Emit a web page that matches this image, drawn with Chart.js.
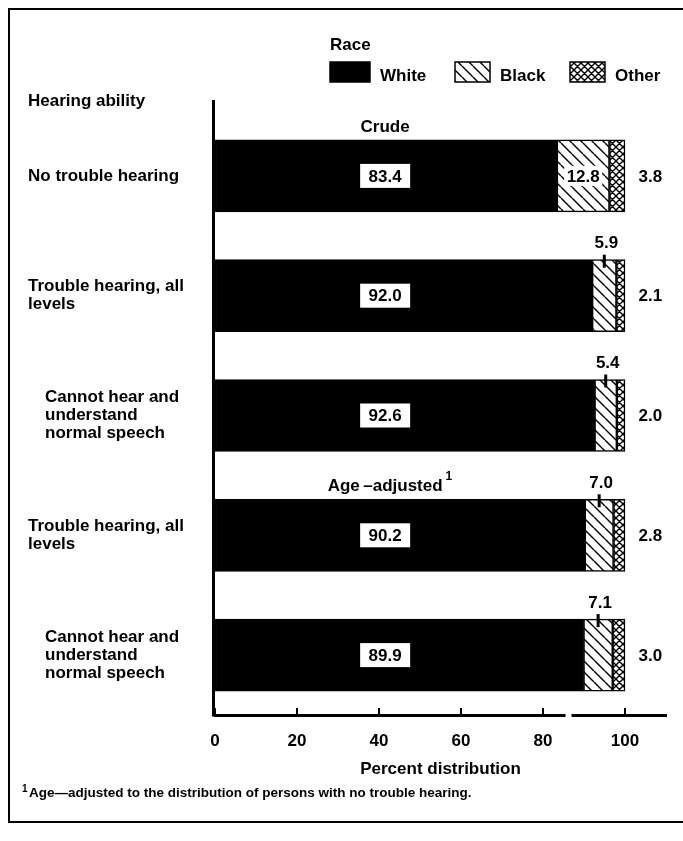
<!DOCTYPE html>
<html lang="en">
<head>
<meta charset="UTF-8">
<title>Hearing ability by race</title>
<script src="https://cdn.jsdelivr.net/npm/chart.js"></script>
<style>
    body {
        margin: 0;
        background: #fff;
    }

    #chart-container {
        position: relative;
        width: 683px;
        height: 841px;
    }
</style>
</head>
<body>
<div id="chart-container">
    <canvas id="hearingChart"></canvas>
</div>
<script>
const categories = [
    ['No trouble hearing'],
    ['Trouble hearing, all', 'levels'],
    ['Cannot hear and', 'understand', 'normal speech'],
    ['Trouble hearing, all', 'levels'],
    ['Cannot hear and', 'understand', 'normal speech']
];
const whiteValues = [83.4, 92.0, 92.6, 90.2, 89.9];
const blackValues = [12.8, 5.9, 5.4, 7.0, 7.1];
const otherValues = [3.8, 2.1, 2.0, 2.8, 3.0];
const xTicks = [0, 20, 40, 60, 80, 100];
const groupLabels = ['Crude', null, null, 'Age\u2009\u2013adjusted', null];

const FONT = "'Liberation Sans', Arial, sans-serif";
const MAIN = 'bold 17px ' + FONT;

const canvas = document.getElementById('hearingChart');
const ctx = canvas.getContext('2d');

// hatch fills for the Black and Other segments
function makePattern(size, cross) {
    const c = document.createElement('canvas');
    c.width = size;
    c.height = size;
    const g = c.getContext('2d');
    g.fillStyle = '#fff';
    g.fillRect(0, 0, size, size);
    g.strokeStyle = '#000';
    g.lineWidth = 1.4;
    g.beginPath();
    for (const k of [-size, 0, size]) {
        g.moveTo(k, 0);
        g.lineTo(k + size, size);
        if (cross) {
            g.moveTo(k + size, 0);
            g.lineTo(k, size);
        }
    }
    g.stroke();
    return ctx.createPattern(c, 'repeat');
}

const hatch = makePattern(11, false);
const crossHatch = makePattern(7, true);

function txt(c, s, x, y, align, font) {
    c.font = font || MAIN;
    c.textAlign = align || 'left';
    c.textBaseline = 'middle';
    c.fillStyle = '#000';
    c.fillText(s, x, y);
}

const decorPlugin = {
    id: 'decor',
    afterDraw(chart) {
        const c = chart.ctx;
        const area = chart.chartArea;
        const xs = chart.scales.x;
        const ys = chart.scales.y;
        c.save();

        // frame
        c.strokeStyle = '#000';
        c.lineWidth = 2;
        c.beginPath();
        c.moveTo(683, 9);
        c.lineTo(9, 9);
        c.lineTo(9, 822);
        c.lineTo(683, 822);
        c.stroke();

        // legend
        txt(c, 'Race', 330, 45);
        const sets = chart.data.datasets;
        const legendX = [330, 455, 570];
        const boxW = [40, 35, 35];
        sets.forEach((ds, i) => {
            c.fillStyle = ds.backgroundColor;
            c.fillRect(legendX[i], 62, boxW[i], 20);
            c.strokeStyle = '#000';
            c.lineWidth = 1.5;
            c.strokeRect(legendX[i], 62, boxW[i], 20);
            txt(c, ds.label, legendX[i] + boxW[i] + 10, 76);
        });

        txt(c, 'Hearing ability', 28, 101);

        // y axis line, running up past the plot top
        c.strokeStyle = '#000';
        c.lineWidth = 3;
        c.beginPath();
        c.moveTo(area.left - 1.5, 100);
        c.lineTo(area.left - 1.5, area.bottom + 1.5);
        c.stroke();

        // category labels
        categories.forEach((lines, i) => {
            const cy = ys.getPixelForValue(i);
            const lx = lines.length > 2 ? 45 : 28;
            const y0 = cy - (lines.length - 1) * 9;
            lines.forEach((ln, k) => txt(c, ln, lx, y0 + k * 18));
        });

        // x tick marks pointing up, and the axis break
        c.lineWidth = 2;
        xTicks.forEach(v => {
            const px = xs.getPixelForValue(v);
            c.beginPath();
            c.moveTo(px, area.bottom);
            c.lineTo(px, area.bottom - 7);
            c.stroke();
        });
        c.fillStyle = '#fff';
        c.fillRect(xs.getPixelForValue(85.5), area.bottom - 4, 6, 9);

        const white = chart.getDatasetMeta(0).data;
        const black = chart.getDatasetMeta(1).data;
        const other = chart.getDatasetMeta(2).data;

        groupLabels.forEach((g, i) => {
            if (!g) return;
            const bar = white[i];
            const top = bar.y - bar.height / 2;
            const gx = xs.getPixelForValue(41.5);
            txt(c, g, gx, top - 13, 'center');
            if (i > 0) {
                c.font = MAIN;
                const w = c.measureText(g).width;
                txt(c, '1', gx + w / 2 + 3, top - 23, 'left', 'bold 12px ' + FONT);
            }
        });

        whiteValues.forEach((v, i) => {
            const bar = white[i];
            const bx = xs.getPixelForValue(41.5);
            c.fillStyle = '#fff';
            c.fillRect(bx - 25, bar.y - 12, 50, 24);
            txt(c, v.toFixed(1), bx, bar.y + 1, 'center');
        });

        blackValues.forEach((v, i) => {
            const bar = black[i];
            const mid = (bar.x + bar.base) / 2;
            const top = bar.y - bar.height / 2;
            if (bar.x - bar.base > 40) {
                c.fillStyle = '#fff';
                c.fillRect(mid - 19, bar.y - 10, 38, 20);
                txt(c, v.toFixed(1), mid, bar.y + 1, 'center');
            } else {
                c.strokeStyle = '#000';
                c.lineWidth = 3;
                c.beginPath();
                c.moveTo(mid, top - 5);
                c.lineTo(mid, top + 8);
                c.stroke();
                txt(c, v.toFixed(1), mid + 2, top - 16, 'center');
            }
        });

        otherValues.forEach((v, i) => {
            const bar = other[i];
            txt(c, v.toFixed(1), xs.getPixelForValue(103.3), bar.y + 1, 'left');
        });

        txt(c, 'Age\u2014adjusted to the distribution of persons with no trouble hearing.',
            29, 793, 'left', 'bold 13.5px ' + FONT);
        txt(c, '1', 22, 789, 'left', 'bold 10px ' + FONT);

        c.restore();
    }
};

const common = {
    borderColor: '#000',
    borderWidth: 1.5,
    borderSkipped: false,
    barThickness: 72
};

new Chart(ctx, {
    type: 'bar',
    data: {
        labels: categories.map(l => l.join(' ')),
        datasets: [
            Object.assign({ label: 'White', data: whiteValues, backgroundColor: '#000' }, common),
            Object.assign({ label: 'Black', data: blackValues, backgroundColor: hatch }, common),
            Object.assign({ label: 'Other', data: otherValues, backgroundColor: crossHatch }, common)
        ]
    },
    options: {
        indexAxis: 'y',
        responsive: true,
        maintainAspectRatio: false,
        animation: false,
        layout: {
            padding: { top: 116, bottom: 46, left: 0, right: 17 }
        },
        plugins: {
            legend: { display: false },
            tooltip: { enabled: false }
        },
        scales: {
            x: {
                stacked: true,
                min: 0,
                max: 110,
                afterBuildTicks: scale => {
                    scale.ticks = xTicks.map(v => ({ value: v }));
                },
                afterFit: scale => {
                    scale.height = 80;
                },
                grid: { display: false },
                border: { color: '#000', width: 3 },
                ticks: {
                    color: '#000',
                    padding: 8,
                    font: { family: FONT, size: 17, weight: 'bold' }
                },
                title: {
                    display: true,
                    text: 'Percent distribution',
                    color: '#000',
                    font: { family: FONT, size: 17, weight: 'bold' },
                    padding: { top: 4, bottom: 15 }
                }
            },
            y: {
                stacked: true,
                afterFit: scale => {
                    scale.width = 215;
                },
                grid: { display: false },
                border: { display: false },
                ticks: { display: false }
            }
        }
    },
    plugins: [decorPlugin]
});
</script>
</body>
</html>
